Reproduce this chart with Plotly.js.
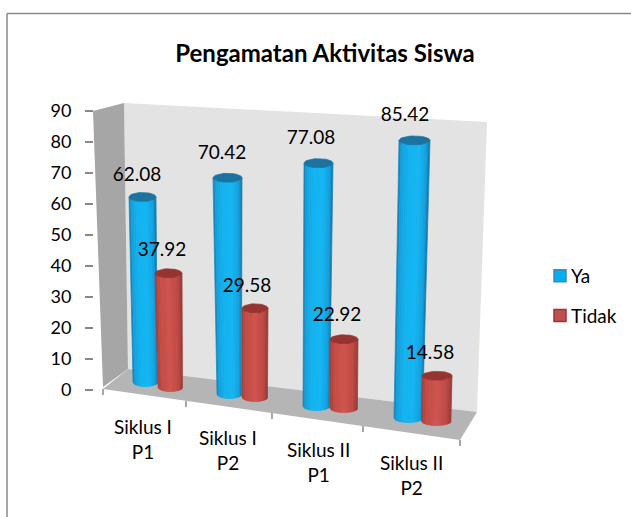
<!DOCTYPE html>
<html>
<head>
<meta charset="utf-8">
<script src="https://cdn.plot.ly/plotly-3.0.1.min.js"></script>
<style>html,body{margin:0;padding:0;background:#fff;overflow:hidden}#c{width:631px;height:517px}</style>
</head>
<body>
<div id="c"></div>
<script>
// ---- data ----
var chartTitle = 'Pengamatan Aktivitas Siswa';
var categories = ['Siklus I<br>P1', 'Siklus I<br>P2', 'Siklus II<br>P1', 'Siklus II<br>P2'];
var ya = [62.08, 70.42, 77.08, 85.42];
var tidak = [37.92, 29.58, 22.92, 14.58];
var valueTicks = [0, 10, 20, 30, 40, 50, 60, 70, 80, 90];

// ---- perspective geometry of the tilted 3-D box (page pixels on x, axis units on y) ----
var W = 631, H = 517, Y0 = 389.5, PX = 3.098;
function yv(py) { return (Y0 - py) / PX; }
var yaBaseX = [145.5, 229.5, 316.5, 408.5], yaTopX = [142.5, 227.5, 318.5, 414.5];
var yaBaseW = [25, 25, 27, 29], yaTopW = [27, 29, 29, 31];
var yaBaseY = [382, 394, 406, 418], yaDepth = [0.962, 0.991, 1.017, 1.049];
var tiBaseX = [170.5, 255, 344, 436.5], tiTopX = [168.5, 255, 344, 437];
var tiBaseW = [25, 26, 28, 30], tiTopW = [27, 26, 28, 30];
var tiBaseY = [387, 397, 408, 421], tiDepth = [0.968, 0.968, 0.968, 1.0];
var ellipse = 4.5 / PX;
var yaLabelXY = [[137, 176], [222, 154], [311, 139], [405, 116]];
var tiLabelXY = [[162, 251], [247, 287], [337, 316], [430, 354]];
var catLabelXY = [[143, 439], [228, 450], [318, 462], [411, 475]];
var floorTicks = [[103, 389], [186, 401], [272, 413], [363, 426], [460, 440]];

var blueStops = [[-1, [28, 120, 170]], [-0.82, [18, 160, 220]], [-0.3, [20, 180, 240]], [0.3, [24, 182, 242]], [0.8, [16, 160, 222]], [1, [26, 112, 160]]];
var redStops = [[-1, [160, 62, 58]], [-0.7, [192, 74, 68]], [0, [208, 86, 80]], [0.65, [192, 72, 68]], [1, [150, 55, 52]]];
function shade(stops, u) {
  for (var i = 1; i < stops.length; i++) {
    if (u <= stops[i][0]) {
      var a = stops[i - 1], b = stops[i], t = (u - a[0]) / (b[0] - a[0]);
      return 'rgb(' + [0, 1, 2].map(function (k) { return Math.round(a[1][k] + (b[1][k] - a[1][k]) * t); }).join(',') + ')';
    }
  }
  return 'rgb(' + stops[stops.length - 1][1].join(',') + ')';
}

var traces = [];
function barTrace(name, values, baseX, topX, baseY, depth, fill, edge) {
  return {
    type: 'bar', name: name, legendgroup: name,
    x: baseX.map(function (x, i) { return (x + topX[i]) / 2; }), width: 10,
    y: values.map(function (v, i) { return v * depth[i]; }),
    base: baseY.map(yv),
    marker: { color: fill, line: { color: edge, width: 1.5 } }, hoverinfo: 'y'
  };
}
traces.push(barTrace('Ya', ya, yaBaseX, yaTopX, yaBaseY, yaDepth, '#00b0f0', '#4f81bd'));
traces.push(barTrace('Tidak', tidak, tiBaseX, tiTopX, tiBaseY, tiDepth, '#c0504d', '#953735'));

function cylinder(value, bx, bw, tx, tw, by, depth, stops, capColor) {
  var yb = yv(by), yt = yb + value * depth, N = 16;
  for (var j = 0; j < N; j++) {
    var u0 = -1 + 2 * j / N, u1 = -1 + 2 * (j + 1) / N, xs = [], ys = [], s;
    for (s = 0; s <= 3; s++) {
      var u = u0 + (u1 - u0) * s / 3, e = ellipse * Math.sqrt(Math.max(0, 1 - u * u));
      xs.push(tx + u * tw / 2); ys.push(yt - e);
    }
    for (s = 3; s >= 0; s--) {
      var u2 = u0 + (u1 - u0) * s / 3, e2 = ellipse * Math.sqrt(Math.max(0, 1 - u2 * u2));
      xs.push(bx + u2 * bw / 2); ys.push(yb - e2);
    }
    xs.push(xs[0]); ys.push(ys[0]);
    var c = shade(stops, (u0 + u1) / 2);
    traces.push({ type: 'scatter', mode: 'lines', x: xs, y: ys, fill: 'toself', fillcolor: c,
      line: { color: c, width: 0.7 }, hoverinfo: 'skip', showlegend: false });
  }
  var cx = [], cy = [];
  for (var a = 0; a <= 40; a++) {
    var th = 2 * Math.PI * a / 40;
    cx.push(tx + Math.cos(th) * tw / 2); cy.push(yt + Math.sin(th) * ellipse);
  }
  traces.push({ type: 'scatter', mode: 'lines', x: cx, y: cy, fill: 'toself', fillcolor: capColor,
    line: { color: capColor, width: 0.7 }, hoverinfo: 'skip', showlegend: false });
}
categories.forEach(function (_, i) {
  cylinder(ya[i], yaBaseX[i], yaBaseW[i], yaTopX[i], yaTopW[i], yaBaseY[i], yaDepth[i], blueStops, 'rgb(28,115,160)');
  cylinder(tidak[i], tiBaseX[i], tiBaseW[i], tiTopX[i], tiTopW[i], tiBaseY[i], tiDepth[i], redStops, 'rgb(150,52,50)');
});

function labelTrace(values, xy) {
  return { type: 'scatter', mode: 'text', showlegend: false, hoverinfo: 'skip', cliponaxis: false,
    x: xy.map(function (p) { return p[0]; }), y: xy.map(function (p) { return yv(p[1]); }),
    text: values.map(function (v) { return v.toFixed(2); }), textposition: 'middle center',
    textfont: { family: 'Lato, sans-serif', size: 19, color: '#000' } };
}
traces.push(labelTrace(ya, yaLabelXY));
traces.push(labelTrace(tidak, tiLabelXY));

function poly(pts, fill) {
  return { type: 'path', xref: 'x', yref: 'y', layer: 'below', fillcolor: fill, line: { width: 0 },
    path: 'M' + pts.map(function (p) { return p[0] + ',' + yv(p[1]); }).join('L') + 'Z' };
}
function seg(x0, py0, x1, py1) {
  return { type: 'line', xref: 'x', yref: 'y', layer: 'below', x0: x0, x1: x1, y0: yv(py0), y1: yv(py1),
    line: { color: '#888', width: 1.5 } };
}
var shapes = [
  poly([[124, 103], [487, 122], [477, 412], [128, 369]], '#e3e3e3'),
  poly([[93, 111], [124, 103], [128, 369], [103, 387]], '#a6a6a6'),
  poly([[103, 389], [128, 369], [477, 412], [460, 440]], '#b5b5b5'),
  seg(7, 13.5, 631, 13.5),
  seg(7, 13.5, 7, 517)
];
floorTicks.forEach(function (t) { shapes.push(seg(t[0], t[1], t[0], t[1] + 6)); });

var annotations = categories.map(function (c, i) {
  return { text: c, x: catLabelXY[i][0], y: yv(catLabelXY[i][1]), xref: 'x', yref: 'y', showarrow: false,
    align: 'center', font: { family: 'Lato, sans-serif', size: 19, color: '#000' } };
});

var layout = {
  width: W, height: H, margin: { l: 0, r: 0, t: 0, b: 0 },
  paper_bgcolor: '#fff', plot_bgcolor: 'rgba(0,0,0,0)', barmode: 'overlay',
  title: { text: chartTitle, x: 325 / W, xanchor: 'center', xref: 'paper', y: 1 - 54 / H, yanchor: 'middle',
    font: { family: 'Lato, sans-serif', size: 24, weight: 700, color: '#000' } },
  xaxis: { range: [0, W], visible: false, fixedrange: true },
  yaxis: { range: [yv(H), yv(0)], anchor: 'free', position: 93 / W, tickmode: 'array', tickvals: valueTicks,
    ticks: 'outside', ticklen: 8, tickwidth: 1.5, tickcolor: '#888', showgrid: false, zeroline: false, showline: false,
    ticklabelstandoff: 10, tickfont: { family: 'Lato, sans-serif', size: 18, color: '#000' }, fixedrange: true },
  legend: { x: 531 / W, xanchor: 'left', y: 1 - 257 / H, yanchor: 'top', tracegroupgap: 12,
    bgcolor: 'rgba(0,0,0,0)', font: { family: 'Lato, sans-serif', size: 19, color: '#000' } },
  shapes: shapes, annotations: annotations, showlegend: true, hovermode: 'closest'
};
Plotly.newPlot('c', traces, layout, { displayModeBar: false }).then(function () {
  // the reference's legend keys sit right next to their labels
  document.querySelectorAll('#c .legend .legendsymbols').forEach(function (g) {
    g.setAttribute('transform', 'translate(9,0)');
  });
});
</script>
</body>
</html>
